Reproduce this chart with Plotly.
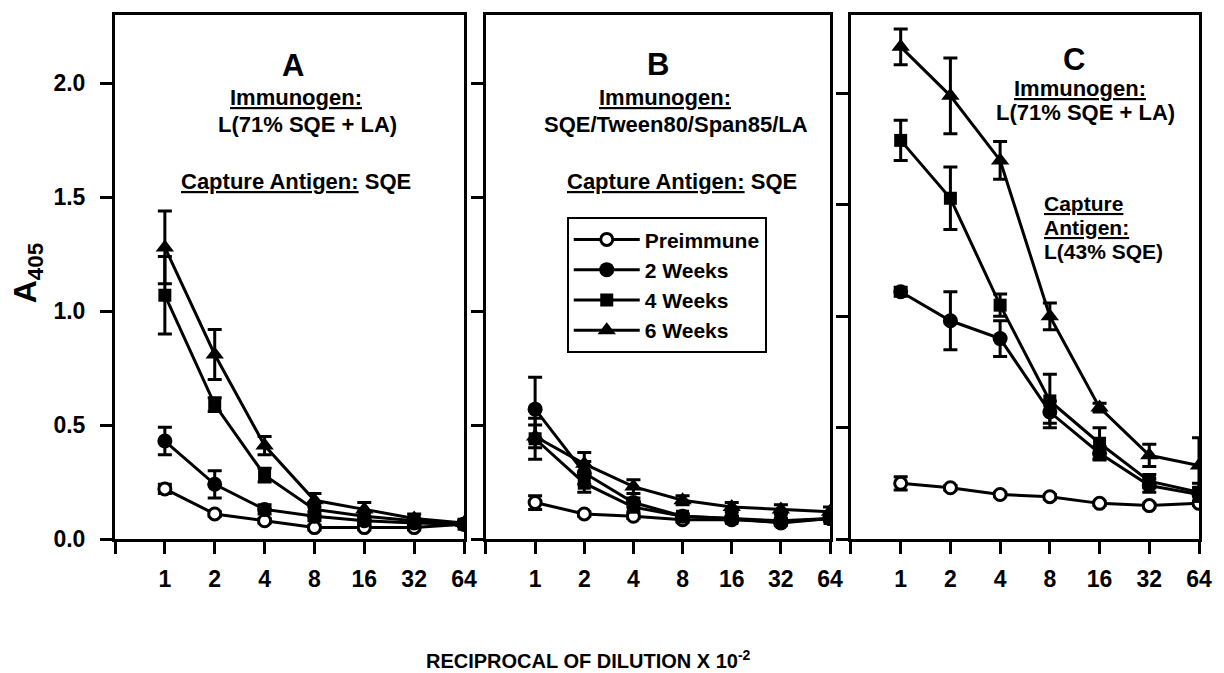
import plotly.graph_objects as go

# ---------------- data ----------------
dilution = [1, 2, 4, 8, 16, 32, 64]
tick_text = ["1", "2", "4", "8", "16", "32", "64"]
edge_tick = [0.5]
series_names = ["Preimmune", "2 Weeks", "4 Weeks", "6 Weeks"]

# Panel A
pre_A = [0.22, 0.11, 0.08, 0.05, 0.05, 0.05, 0.065]
pre_A_err = [0.02, 0.01, 0.01, 0.01, 0.01, 0.01, 0.01]
w2_A = [0.43, 0.24, 0.13, 0.10, 0.08, 0.07, 0.065]
w2_A_err = [0.06, 0.06, 0.02, 0.02, 0.01, 0.01, 0.01]
w4_A = [1.07, 0.59, 0.28, 0.13, 0.10, 0.08, 0.065]
w4_A_err = [0.17, 0.03, 0.03, 0.03, 0.02, 0.01, 0.01]
w6_A = [1.28, 0.81, 0.41, 0.17, 0.13, 0.09, 0.07]
w6_A_err = [0.16, 0.11, 0.04, 0.03, 0.03, 0.02, 0.01]

# Panel B
pre_B = [0.16, 0.11, 0.10, 0.085, 0.085, 0.075, 0.09]
pre_B_err = [0.03, 0.01, 0.01, 0.01, 0.01, 0.01, 0.01]
w2_B = [0.57, 0.29, 0.16, 0.10, 0.09, 0.07, 0.09]
w2_B_err = [0.14, 0.05, 0.02, 0.01, 0.01, 0.01, 0.01]
w4_B = [0.44, 0.245, 0.14, 0.10, 0.09, 0.08, 0.09]
w4_B_err = [0.09, 0.04, 0.02, 0.01, 0.01, 0.01, 0.01]
w6_B = [0.45, 0.33, 0.23, 0.17, 0.14, 0.13, 0.12]
w6_B_err = [0.05, 0.05, 0.03, 0.02, 0.02, 0.02, 0.02]

# Panel C
pre_C = [0.25, 0.23, 0.20, 0.19, 0.16, 0.15, 0.16]
pre_C_err = [0.03, 0.01, 0.01, 0.01, 0.01, 0.01, 0.01]
w2_C = [1.11, 0.98, 0.90, 0.57, 0.385, 0.24, 0.20]
w2_C_err = [0.02, 0.13, 0.08, 0.05, 0.03, 0.03, 0.03]
w4_C = [1.79, 1.53, 1.05, 0.62, 0.43, 0.26, 0.21]
w4_C_err = [0.09, 0.14, 0.05, 0.12, 0.07, 0.03, 0.04]
w6_C = [2.21, 1.99, 1.70, 1.00, 0.59, 0.376, 0.33]
w6_C_err = [0.08, 0.17, 0.085, 0.06, 0.02, 0.05, 0.125]

panels = [
    ([pre_A, w2_A, w4_A, w6_A], [pre_A_err, w2_A_err, w4_A_err, w6_A_err]),
    ([pre_B, w2_B, w4_B, w6_B], [pre_B_err, w2_B_err, w4_B_err, w6_B_err]),
    ([pre_C, w2_C, w4_C, w6_C], [pre_C_err, w2_C_err, w4_C_err, w6_C_err]),
]

# ---------------- layout helpers ----------------
W, H = 1224, 673
ML, MR, MT, MB = 115, 22, 13, 134
PW = W - ML - MR
PH = H - MT - MB
FONT = "Liberation Sans, Arial, Helvetica, sans-serif"


def px(x):
    return (x - ML) / PW


def py(y):
    return (H - MB - y) / PH


markers = [
    dict(symbol="circle", size=12, color="white", line=dict(color="black", width=3)),
    dict(symbol="circle", size=15, color="black", line=dict(color="black", width=0)),
    dict(symbol="square", size=13, color="black", line=dict(color="black", width=0)),
    dict(symbol="triangle-up", size=16, color="black", line=dict(color="black", width=0)),
]

fig = go.Figure()
for p, (vals, errs) in enumerate(panels):
    ax = "" if p == 0 else str(p + 1)
    for s in range(4):
        fig.add_trace(go.Scatter(
            x=dilution, y=vals[s],
            error_y=dict(type="data", array=errs[s], visible=True,
                         color="black", thickness=3, width=7),
            mode="lines+markers",
            line=dict(color="black", width=3),
            marker=markers[s],
            name=series_names[s],
            legendgroup=series_names[s],
            showlegend=(p == 1),
            xaxis="x" + ax, yaxis="y" + ax,
        ))

domains = [
    [px(115), px(465)],
    [px(487), px(832)],
    [px(853), px(1202)],
]
yranges = [[0, 2.30], [0, 2.30], [0, 2.353]]

tickfont = dict(family=FONT, size=23, color="black", weight="bold")
axis_common = dict(showline=True, linewidth=3, linecolor="black", mirror=True,
                   ticks="outside", ticklen=12, tickwidth=3, tickcolor="black",
                   showgrid=False, zeroline=False, tickfont=tickfont)

layout = dict(
    width=W, height=H,
    margin=dict(l=ML, r=MR, t=MT, b=MB),
    paper_bgcolor="white", plot_bgcolor="white",
    font=dict(family=FONT, color="black", weight="bold"),
    showlegend=True,
    legend=dict(x=px(568), y=py(216), xanchor="left", yanchor="top",
                bordercolor="black", borderwidth=2, bgcolor="white",
                font=dict(family=FONT, size=21, color="black", weight="bold"),
                itemwidth=66, tracegroupgap=0),
)
for p in range(3):
    ax = "" if p == 0 else str(p + 1)
    layout["xaxis" + ax] = dict(axis_common, type="log", domain=domains[p],
                                range=[-0.30103, 1.80618],
                                tickvals=dilution, ticktext=tick_text,
                                ticklabelstandoff=5,
                                minor=dict(tickvals=edge_tick, ticks="outside",
                                           ticklen=12, tickwidth=3,
                                           tickcolor="black", showgrid=False),
                                anchor="y" + ax)
    layout["yaxis" + ax] = dict(axis_common, domain=[0, 1], range=yranges[p],
                                tickvals=[0, 0.5, 1.0, 1.5, 2.0],
                                tickformat=".1f", showticklabels=(p == 0),
                                ticklabelstandoff=10,
                                anchor="x" + ax)

fig.update_layout(**layout)

tfont = dict(family=FONT, size=22, color="black", weight="bold")
cfont = dict(family=FONT, size=21, color="black", weight="bold")
bigfont = dict(family=FONT, size=31, color="black", weight="bold")

ann = [
    # Panel A
    (293, 64, "A", bigfont, "center"),
    (296, 96, "<u>Immunogen:</u>", tfont, "center"),
    (308, 123, "L(71% SQE + LA)", tfont, "center"),
    (296, 180, "<u>Capture Antigen:</u> SQE", tfont, "center"),
    # Panel B
    (660, 63, "B", bigfont, "center"),
    (667, 96, "<u>Immunogen:</u>", tfont, "center"),
    (678, 123, "SQE/Tween80/Span85/LA", tfont, "center"),
    (684, 180, "<u>Capture Antigen:</u> SQE", tfont, "center"),
    # Panel C
    (1077, 58, "C", bigfont, "center"),
    (1083, 87, "<u>Immunogen:</u>", tfont, "center"),
    (1088, 111, "L(71% SQE + LA)", tfont, "center"),
    (1045, 202, "<u>Capture</u>", cfont, "left"),
    (1045, 226, "<u>Antigen:</u>", cfont, "left"),
    (1045, 250, "L(43% SQE)", cfont, "left"),
]
for x, y, t, f, anc in ann:
    fig.add_annotation(x=px(x), y=py(y), xref="paper", yref="paper", text=t,
                       showarrow=False, font=f, xanchor=anc, yanchor="middle")

# axis titles
fig.add_annotation(x=px(27), y=py(272), xref="paper", yref="paper",
                   text="A<sub>405</sub>", textangle=-90, showarrow=False,
                   font=dict(family=FONT, size=32, color="black", weight="bold"),
                   xanchor="center", yanchor="middle")
fig.add_annotation(x=px(590), y=py(660), xref="paper", yref="paper",
                   text="RECIPROCAL OF DILUTION X 10<sup>-2</sup>", showarrow=False,
                   font=dict(family=FONT, size=20, color="black", weight="bold"),
                   xanchor="center", yanchor="middle")

# the page is photographed edge to edge: drop the browser's default body margin
fig.write_html("out.html", config={"displayModeBar": False},
               post_script="document.body.style.margin='0';document.body.style.overflow='hidden';")
